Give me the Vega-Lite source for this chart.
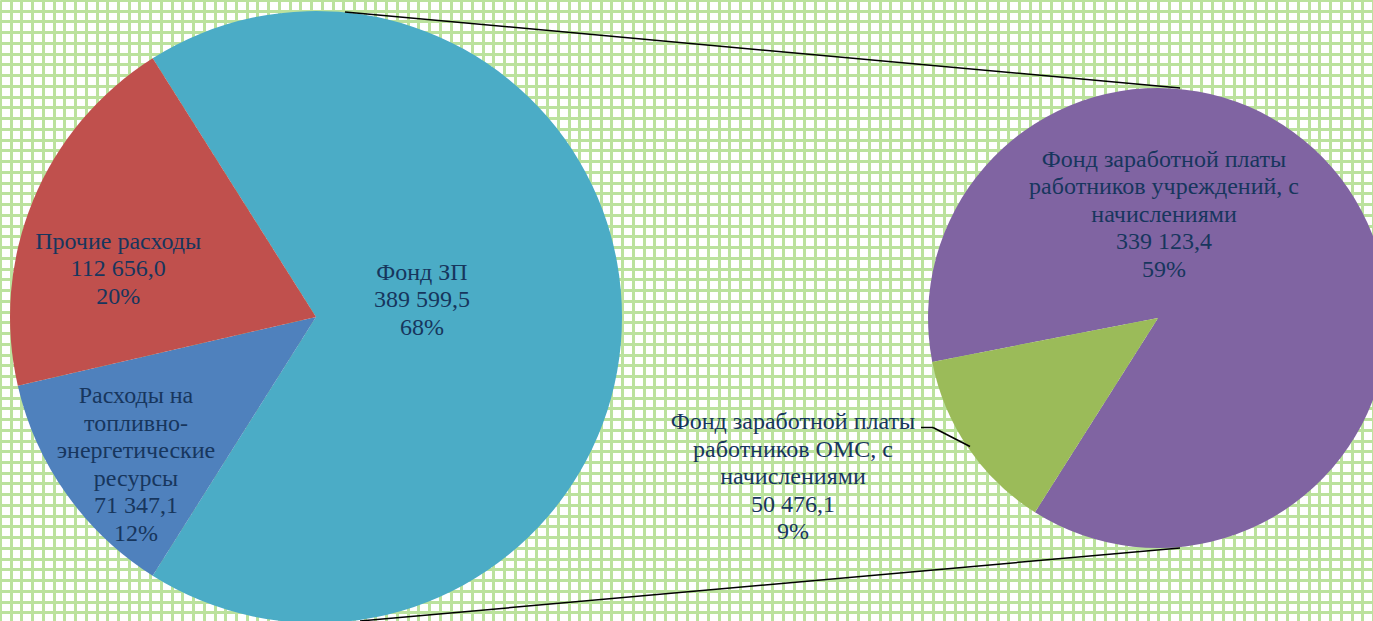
{
  "$schema": "https://vega.github.io/schema/vega-lite/v6.json",
  "width": 1373,
  "height": 621,
  "autosize": "none",
  "padding": 0,
  "background": "#ffffff",
  "config": {
    "view": {"stroke": null},
    "axis": {"grid": true, "gridColor": "#bbe29d", "gridWidth": 3, "gridOpacity": 1, "labels": false, "ticks": false, "domain": false},
    "axisX": {"tickCount": 128},
    "axisY": {"tickCount": 58}
  },
  "datasets": {
    "main": [
      {"cat": "Фонд ЗП", "value": 389599.5, "ord": 1, "label": "Фонд ЗП\n389 599,5\n68%"},
      {"cat": "Расходы на топливно-энергетические ресурсы", "value": 71347.1, "ord": 2, "label": "Расходы на\nтопливно-\nэнергетические\nресурсы\n71 347,1\n12%"},
      {"cat": "Прочие расходы", "value": 112656.0, "ord": 3, "label": "Прочие расходы\n112 656,0\n20%"}
    ],
    "sub": [
      {"cat": "Фонд заработной платы работников учреждений, с начислениями", "value": 339123.4, "ord": 1, "label": "Фонд заработной платы\nработников учреждений, с\nначислениями\n339 123,4\n59%"},
      {"cat": "Фонд заработной платы работников ОМС, с начислениями", "value": 50476.1, "ord": 2, "label": "Фонд заработной платы\nработников ОМС, с\nначислениями\n50 476,1\n9%"}
    ]
  },
  "resolve": {"scale": {"theta": "independent"}},
  "layer": [
    {
      "data": {"values": [{"gx": 0, "gy": 0}]},
      "mark": {"type": "point", "opacity": 0},
      "encoding": {
        "x": {"field": "gx", "type": "quantitative", "scale": {"domain": [0, 128], "nice": false, "zero": false},
              "axis": {"title": null}},
        "y": {"field": "gy", "type": "quantitative", "scale": {"domain": [0, 57.8], "nice": false, "zero": false, "reverse": true},
              "axis": {"title": null}}
      }
    },
    {
      "data": {"name": "main"},
      "encoding": {
        "theta": {"field": "value", "type": "quantitative", "stack": true, "scale": {"range": [-0.5630, 5.7202]}},
        "order": {"field": "ord", "type": "quantitative"},
        "x": {"datum": 29.46, "type": "quantitative"},
        "y": {"datum": 29.505, "type": "quantitative"}
      },
      "layer": [
        {
          "mark": {"type": "arc", "outerRadius": 306},
          "encoding": {
            "color": {"field": "cat", "type": "nominal", "legend": null,
              "scale": {"domain": ["Фонд ЗП", "Расходы на топливно-энергетические ресурсы", "Прочие расходы", "Фонд заработной платы работников учреждений, с начислениями", "Фонд заработной платы работников ОМС, с начислениями"],
                        "range": ["#4bacc6", "#4f81bd", "#c0504d", "#8064a2", "#9bbb59"]}}
          }
        },
        {
          "mark": {"type": "text", "radius": 100, "dx": 6, "dy": -44.5, "font": "Liberation Serif", "fontSize": 24, "lineHeight": 27.5, "lineBreak": "\n", "color": "#17365d", "align": "center", "baseline": "middle"},
          "encoding": {"text": {"condition": {"test": "datum.ord === 1", "field": "label", "type": "nominal"}, "value": ""}}
        },
        {
          "mark": {"type": "text", "radius": 244, "dx": 19, "dy": -61.75, "font": "Liberation Serif", "fontSize": 24, "lineHeight": 27.5, "lineBreak": "\n", "color": "#17365d", "align": "center", "baseline": "middle"},
          "encoding": {"text": {"condition": {"test": "datum.ord === 2", "field": "label", "type": "nominal"}, "value": ""}}
        },
        {
          "mark": {"type": "text", "radius": 214, "dy": 6.5, "font": "Liberation Serif", "fontSize": 24, "lineHeight": 27.5, "lineBreak": "\n", "color": "#17365d", "align": "center", "baseline": "middle"},
          "encoding": {"text": {"condition": {"test": "datum.ord === 3", "field": "label", "type": "nominal"}, "value": ""}}
        }
      ]
    },
    {
      "data": {"name": "sub"},
      "encoding": {
        "theta": {"field": "value", "type": "quantitative", "stack": true, "scale": {"range": [4.5204, 10.8036]}},
        "order": {"field": "ord", "type": "quantitative"},
        "x": {"datum": 107.96, "type": "quantitative"},
        "y": {"datum": 29.598, "type": "quantitative"}
      },
      "layer": [
        {
          "mark": {"type": "arc", "outerRadius": 230},
          "encoding": {"color": {"field": "cat", "type": "nominal", "legend": null}}
        },
        {
          "mark": {"type": "text", "radius": 0, "dx": 6, "dy": -158, "font": "Liberation Serif", "fontSize": 24, "lineHeight": 27.5, "lineBreak": "\n", "color": "#17365d", "align": "center", "baseline": "middle"},
          "encoding": {"text": {"condition": {"test": "datum.ord === 1", "field": "label", "type": "nominal"}, "value": ""}}
        },
        {
          "mark": {"type": "text", "radius": 442, "dy": -145, "font": "Liberation Serif", "fontSize": 24, "lineHeight": 27.5, "lineBreak": "\n", "color": "#17365d", "align": "center", "baseline": "middle"},
          "encoding": {"text": {"condition": {"test": "datum.ord === 2", "field": "label", "type": "nominal"}, "value": ""}}
        }
      ]
    },
    {
      "data": {"values": [{"link": "top"}]},
      "mark": {"type": "rule", "color": "#000000", "strokeWidth": 1.5},
      "encoding": {
        "x": {"datum": 32.16, "type": "quantitative"},
        "y": {"datum": 1.117, "type": "quantitative"},
        "x2": {"datum": 110.01},
        "y2": {"datum": 8.19}
      }
    },
    {
      "data": {"values": [{"link": "bottom"}]},
      "mark": {"type": "rule", "color": "#000000", "strokeWidth": 1.5},
      "encoding": {
        "x": {"datum": 33.56, "type": "quantitative"},
        "y": {"datum": 57.8, "type": "quantitative"},
        "x2": {"datum": 110.01},
        "y2": {"datum": 51.006}
      }
    },
    {
      "data": {"values": [{"link": "leader-h"}]},
      "mark": {"type": "rule", "color": "#000000", "strokeWidth": 1.5},
      "encoding": {
        "x": {"datum": 85.86, "type": "quantitative"},
        "y": {"datum": 39.79, "type": "quantitative"},
        "x2": {"datum": 86.98},
        "y2": {"datum": 39.79}
      }
    },
    {
      "data": {"values": [{"link": "leader-d"}]},
      "mark": {"type": "rule", "color": "#000000", "strokeWidth": 1.5},
      "encoding": {
        "x": {"datum": 86.98, "type": "quantitative"},
        "y": {"datum": 39.79, "type": "quantitative"},
        "x2": {"datum": 90.43},
        "y2": {"datum": 41.56}
      }
    }
  ]
}
